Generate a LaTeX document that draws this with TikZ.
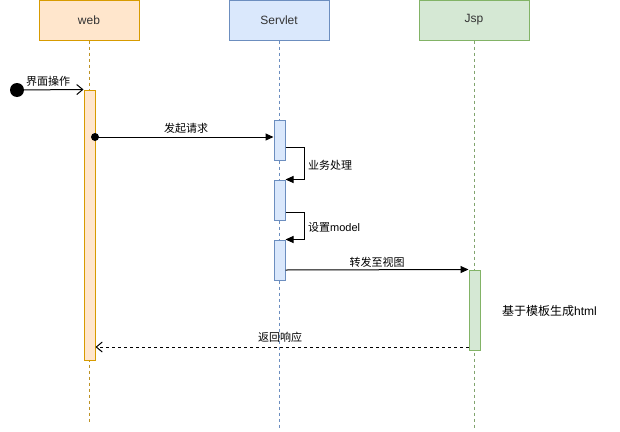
\documentclass[tikz,border=0pt]{standalone}
\usepackage{fontspec}
\setmainfont{Liberation Sans}
\newfontfamily\cjk{Noto Sans CJK SC}
\usetikzlibrary{arrows.meta}
\definecolor{wfill}{HTML}{FFE6CC}
\definecolor{wdraw}{HTML}{D79B00}
\definecolor{sfill}{HTML}{DAE8FC}
\definecolor{sdraw}{HTML}{6C8EBF}
\definecolor{jfill}{HTML}{D5E8D4}
\definecolor{jdraw}{HTML}{82B366}
\definecolor{txt}{HTML}{333333}
\tikzset{
  head/.style={rectangle, minimum width=100pt, minimum height=40pt, inner sep=0pt, line width=1pt, font=\fontsize{12}{14}\selectfont, text=txt},
  life/.style={line width=0.8pt, dash pattern=on 3pt off 3pt},
  actbar/.style={rectangle, minimum width=11pt, inner sep=0pt, line width=1pt},
  msg/.style={line width=1pt, -{Triangle[length=8pt,width=7pt]}},
  openmsg/.style={line width=1pt, -{Straight Barb[length=6pt,width=10pt]}},
  lbl/.style={font=\fontsize{11}{13}\selectfont, inner sep=0pt, text=black},
}
\begin{document}
\begin{tikzpicture}[x=1pt,y=-1pt]
\useasboundingbox (0,0) rectangle (620,431);
% headers
\node[head, fill=wfill, draw=wdraw] (web) at (89,20) {web};
\node[head, fill=sfill, draw=sdraw] (servlet) at (279,20) {Servlet};
\node[head, fill=jfill, draw=jdraw, minimum width=110pt] (jsp) at (474,20) {Jsp};
% lifeline ends
\coordinate (wend) at (89,422);
\coordinate (send) at (279,428);
\coordinate (jend) at (474,428);
\draw[life, draw=wdraw!70!gray] (web.south) -- (wend);
\draw[life, draw=sdraw] (servlet.south) -- (send);
\draw[life, draw=jdraw!70!gray] (jsp.south) -- (jend);
% activation bars
\node[actbar, fill=wfill, draw=wdraw, minimum height=270pt] (wbar) at (89.5,225) {};
\node[actbar, fill=sfill, draw=sdraw, minimum height=40pt] (s1) at (279.5,140) {};
\node[actbar, fill=sfill, draw=sdraw, minimum height=40pt] (s2) at (279.5,200) {};
\node[actbar, fill=sfill, draw=sdraw, minimum height=40pt] (s3) at (279.5,260) {};
\node[actbar, fill=jfill, draw=jdraw, minimum height=80pt] (j1) at (474.5,310) {};
% start
\node[circle, fill=black, minimum size=14pt, inner sep=0pt] (dot) at (17,90) {};
\draw[openmsg] (dot.center) -- (wbar.north west);
\node[lbl] (l1) at (48,81) {\cjk 界面操作};
% request
\node[circle, fill=black, minimum size=8pt, inner sep=0pt] (d2) at (95,137) {};
\draw[msg] (d2.center) -- (s1.west |- d2);
\node[lbl] (l2) at (186,128) {\cjk 发起请求};
% self messages
\draw[msg] (s1.east |- 0,147) -- ++(19,0) |- (s2.north east);
\node[lbl, anchor=west] (l3) at (308,165) {\cjk 业务处理};
\draw[msg] (s2.east |- 0,212) -- ++(19,0) |- (s3.north east);
\node[lbl, anchor=west] (l4) at (308,227) {{\cjk 设置}model};
% forward
\draw[msg] (s3.east |- 0,270) -- (j1.north west);
\node[lbl] (l5) at (377,262) {\cjk 转发至视图};
\node[lbl, anchor=west, font=\fontsize{12}{14}\selectfont] (l6) at (502,311) {{\cjk 基于模板生成}html};
% return
\draw[openmsg, dash pattern=on 3pt off 3pt] (j1.west |- 0,347) -- (wbar.east |- 0,347);
\node[lbl] (l7) at (280,337) {\cjk 返回响应};
\end{tikzpicture}
\end{document}
